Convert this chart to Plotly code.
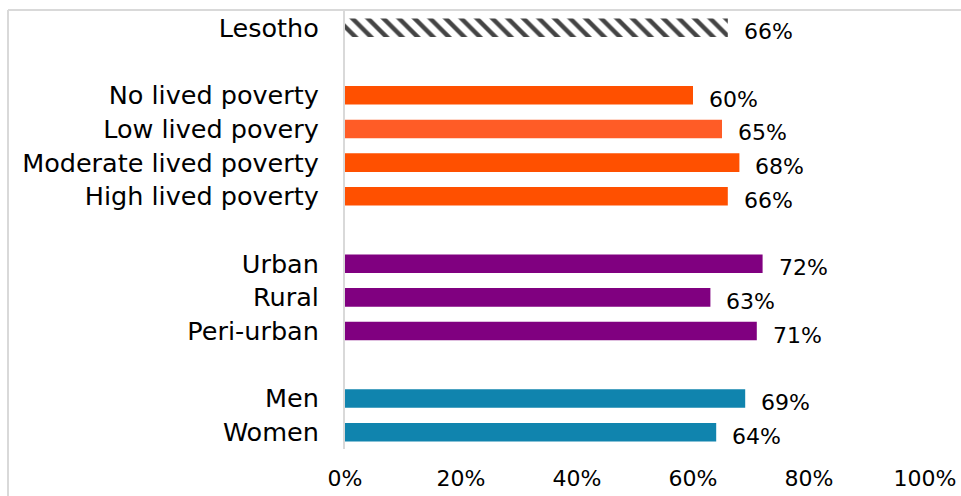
import plotly.graph_objects as go

# Categories top-to-bottom; empty strings are spacer rows between groups
categories = ["Lesotho", "", "No lived poverty", "Low lived povery", "Moderate lived poverty",
              "High lived poverty", " ", "Urban", "Rural", "Peri-urban", "  ", "Men", "Women"]
values = [0.66, None, 0.60, 0.65, 0.68, 0.66, None, 0.72, 0.63, 0.71, None, 0.69, 0.64]
colors = ["#ffffff", "#ffffff", "#FF5000", "#FF5C26", "#FF5000", "#FF5000", "#ffffff",
          "#800080", "#800080", "#800080", "#ffffff", "#1084AE", "#1084AE"]
tick_vals = [0, 0.2, 0.4, 0.6, 0.8, 1.0]
tick_text = ["0%", "20%", "40%", "60%", "80%", "100%"]

FONT = "'DejaVu Sans', sans-serif"
FS_CAT = 25.5
FS_NUM = 22

bar_idx = [i for i, v in enumerate(values) if v is not None]
pattern_shapes = ["\\" if categories[i] == "Lesotho" else "" for i in bar_idx]

fig = go.Figure()
fig.add_trace(go.Bar(
    y=[categories[i] for i in bar_idx],
    x=[values[i] for i in bar_idx],
    orientation="h",
    width=0.55,
    marker=dict(
        color=[colors[i] for i in bar_idx],
        line=dict(width=0),
        pattern=dict(shape=pattern_shapes, fgcolor="#8a8a8a", fgopacity=1, bgcolor="#ffffff",
                     size=11, solidity=0.4, fillmode="overlay"),
    ),
    hoverinfo="skip",
))

# Value labels at the end of each bar
for i in bar_idx:
    fig.add_annotation(
        x=values[i], y=categories[i], text=f"{round(values[i]*100)}%",
        xanchor="left", yanchor="middle", showarrow=False, xshift=14, yshift=-4,
        font=dict(family=FONT, size=FS_NUM, color="#000000"),
    )

# Outer frame (top and left edges)
px_w = 961 - 345 - 36
px_h = 496 - 11 - 47
fig.add_shape(type="line", xref="paper", yref="paper",
              x0=(8 - 345) / px_w, x1=(961 - 345) / px_w, y0=1 + 1 / px_h, y1=1 + 1 / px_h,
              line=dict(color="#d9d9d9", width=2))
fig.add_shape(type="line", xref="paper", yref="paper",
              x0=(8 - 345) / px_w, x1=(8 - 345) / px_w, y0=1 + 1 / px_h, y1=-(47) / px_h,
              line=dict(color="#d9d9d9", width=2))

fig.update_layout(
    width=961, height=496,
    margin=dict(l=345, r=36, t=11, b=47),
    paper_bgcolor="#ffffff", plot_bgcolor="#ffffff",
    showlegend=False,
    font=dict(family=FONT, size=FS_NUM, color="#000000"),
    xaxis=dict(range=[0, 1], tickvals=tick_vals, ticktext=tick_text,
               showgrid=False, zeroline=False, showline=False, automargin=False,
               ticks="outside", ticklen=10, tickcolor="rgba(0,0,0,0)",
               tickfont=dict(family=FONT, size=FS_NUM, color="#000000")),
    yaxis=dict(categoryorder="array", categoryarray=categories[::-1],
               range=[-0.5, len(categories) - 0.5],
               tickvals=categories, ticktext=categories,
               showgrid=False, zeroline=False, automargin=False,
               showline=True, linecolor="#d9d9d9", linewidth=2,
               ticks="outside", ticklen=19, tickcolor="rgba(0,0,0,0)",
               tickfont=dict(family=FONT, size=FS_CAT, color="#000000")),
)

fig.write_html("out.html")
